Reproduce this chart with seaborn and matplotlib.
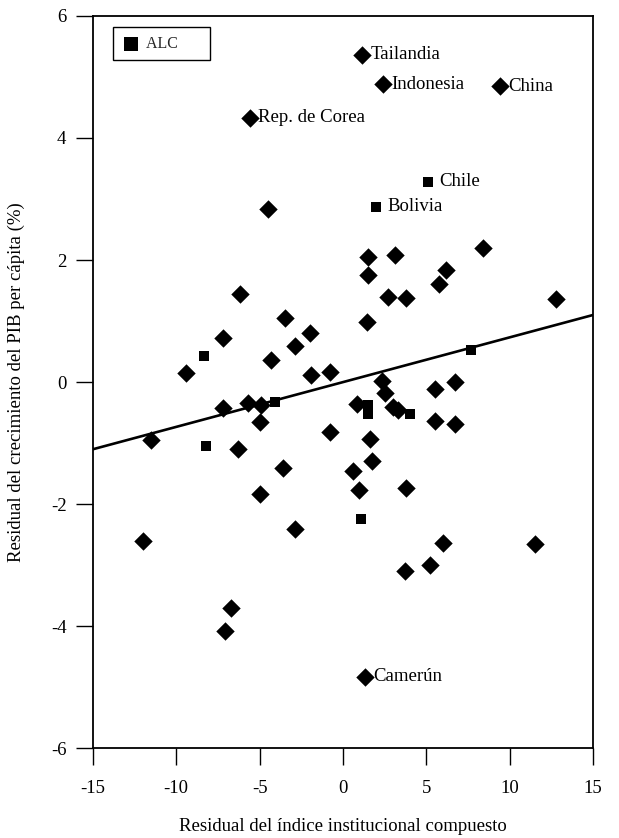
import matplotlib

matplotlib.use("Agg")
import matplotlib.pyplot as plt
import pandas as pd
import seaborn as sns


# Resto de paises (rombos)
OTROS_X = [
    1.15, 2.4, 9.4, -5.6, 1.3,
    -4.5, -6.2, -3.45, -7.2, -2.0, -2.9, -4.3, -9.4, -1.9, -0.8,
    -7.2, -5.7, -4.9, -4.95, -11.5, -6.3, -3.6, -0.8, -5.0, -12.0,
    -2.9, -6.7, -7.1, 1.5, 3.15, 8.4, 1.5, 6.2, 5.75, 2.7, 3.8,
    12.8, 1.45, 2.35, 2.55, 6.7, 5.5, 0.85, 3.0, 3.3, 5.5, 6.7,
    1.6, 1.75, 0.6, 0.95, 3.8, 3.7, 5.2, 6.0, 11.5,
]
OTROS_Y = [
    5.36, 4.88, 4.85, 4.33, -4.83,
    2.83, 1.45, 1.05, 0.72, 0.80, 0.60, 0.37, 0.15, 0.12, 0.17,
    -0.42, -0.35, -0.37, -0.65, -0.95, -1.10, -1.40, -0.82, -1.83, -2.60,
    -2.40, -3.70, -4.07, 2.05, 2.08, 2.20, 1.75, 1.83, 1.60, 1.40, 1.38,
    1.37, 0.98, 0.02, -0.17, 0.01, -0.11, -0.36, -0.40, -0.46, -0.63, -0.69,
    -0.93, -1.30, -1.45, -1.77, -1.73, -3.10, -3.00, -2.63, -2.65,
]

# America Latina y el Caribe (cuadrados)
ALC_X = [5.1, 2.0, -8.35, -4.1, -8.2, 1.5, 1.5, 4.05, 7.7, 1.1]
ALC_Y = [3.28, 2.87, 0.42, -0.32, -1.05, -0.37, -0.52, -0.53, 0.52, -2.25]

ETIQUETAS_OTROS = ["Tailandia", "Indonesia", "China", "Rep. de Corea", "Camerún"]
ETIQUETAS_ALC = ["Chile", "Bolivia"]

# recta de ajuste
AJUSTE_X = [-15, 15]
AJUSTE_Y = [-1.1, 1.1]


def main() -> None:
    sns.set_theme(style="white")
    plt.rcParams["font.family"] = ["Liberation Serif", "DejaVu Serif"]
    plt.rcParams["axes.unicode_minus"] = False

    otros = pd.DataFrame({"x": OTROS_X, "y": OTROS_Y})
    alc = pd.DataFrame({"x": ALC_X, "y": ALC_Y})

    fig = plt.figure(figsize=(6.19, 8.38), dpi=100)
    ax = fig.add_axes([0.150, 0.107, 0.808, 0.874])

    sns.lineplot(x=AJUSTE_X, y=AJUSTE_Y, color="black", linewidth=1.9, ax=ax)
    sns.scatterplot(data=otros, x="x", y="y", marker="D", s=88, color="black",
                    linewidth=0, ax=ax)
    sns.scatterplot(data=alc, x="x", y="y", marker="s", s=62, color="black",
                    linewidth=0, label="ALC", ax=ax)

    for i, nombre in enumerate(ETIQUETAS_OTROS):
        ax.annotate(nombre, (OTROS_X[i], OTROS_Y[i]), xytext=(6, 0),
                    textcoords="offset points", ha="left", va="center",
                    fontsize=13.5, color="black")
    for i, nombre in enumerate(ETIQUETAS_ALC):
        ax.annotate(nombre, (ALC_X[i], ALC_Y[i]), xytext=(8, 0),
                    textcoords="offset points", ha="left", va="center",
                    fontsize=13.5, color="black")

    ax.set_xlim(-15, 15)
    ax.set_ylim(-6, 6)
    ax.set_xticks(range(-15, 16, 5))
    ax.set_yticks(range(-6, 7, 2))
    ax.tick_params(direction="out", length=12, width=1, colors="black",
                   labelsize=13.5, bottom=True, left=True)
    ax.tick_params(axis="x", pad=11)
    ax.tick_params(axis="y", pad=7)
    for spine in ax.spines.values():
        spine.set_color("black")
        spine.set_linewidth(1.3)

    ax.set_xlabel("Residual del índice institucional compuesto", fontsize=13.5,
                  color="black", labelpad=15)
    ax.set_ylabel("Residual del crecimiento del PIB per cápita (%)", fontsize=13.5,
                  color="black")
    ax.yaxis.set_label_coords(-0.135, 0.5)

    handles, labels = ax.get_legend_handles_labels()
    alc_handle = handles[labels.index("ALC")]
    leg = ax.legend([alc_handle], ["ALC      "], loc="upper left",
                    bbox_to_anchor=(0.04, 0.985), borderaxespad=0, fancybox=False,
                    framealpha=1, edgecolor="black", fontsize=11.5,
                    handletextpad=0.3, borderpad=0.55, handlelength=1.2,
                    markerscale=1.35)
    leg.get_frame().set_linewidth(1.0)

    fig.savefig("out.png", dpi=100)
    plt.close(fig)


if __name__ == "__main__":
    main()
